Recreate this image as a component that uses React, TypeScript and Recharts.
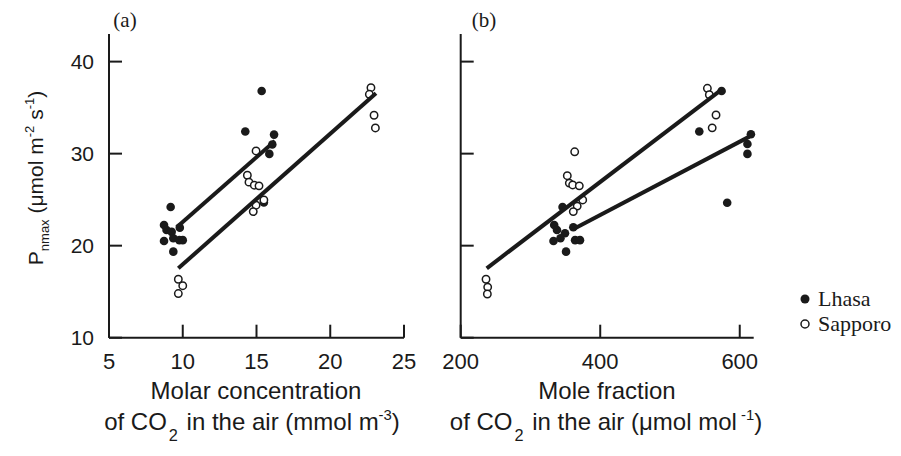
import React from "react";
import { ScatterChart, Scatter, XAxis, YAxis } from "recharts";

// (a) molar concentration of CO2 (mmol m-3) vs Pnmax
const lhasaA = [
  { x: 15.35, y: 36.8 }, { x: 14.24, y: 32.4 }, { x: 16.19, y: 32.07 }, { x: 16.07, y: 31.0 },
  { x: 15.87, y: 29.97 }, { x: 15.5, y: 24.7 }, { x: 9.18, y: 24.2 }, { x: 8.73, y: 22.25 },
  { x: 8.9, y: 21.7 }, { x: 9.25, y: 21.5 }, { x: 9.8, y: 21.96 }, { x: 8.73, y: 20.5 },
  { x: 9.36, y: 20.8 }, { x: 9.77, y: 20.6 }, { x: 10.0, y: 20.6 }, { x: 9.36, y: 19.35 },
];
const sapporoA = [
  { x: 22.76, y: 37.17 }, { x: 22.65, y: 36.45 }, { x: 22.97, y: 34.17 }, { x: 23.06, y: 32.79 },
  { x: 14.97, y: 30.29 }, { x: 14.38, y: 27.65 }, { x: 14.49, y: 26.9 }, { x: 14.85, y: 26.57 },
  { x: 15.17, y: 26.5 }, { x: 15.5, y: 24.97 }, { x: 14.97, y: 24.4 }, { x: 14.78, y: 23.7 },
  { x: 9.7, y: 16.35 }, { x: 10.0, y: 15.65 }, { x: 9.7, y: 14.8 },
];
const lhasaFitA = [{ x: 9.59, y: 22.0 }, { x: 16.25, y: 31.38 }];
const sapporoFitA = [{ x: 9.7, y: 17.54 }, { x: 23.1, y: 36.56 }];

// (b) mole fraction of CO2 (umol mol-1) vs Pnmax
const lhasaB = [
  { x: 574, y: 36.8 }, { x: 542, y: 32.4 }, { x: 616, y: 32.1 }, { x: 611, y: 31.05 },
  { x: 611, y: 29.97 }, { x: 582, y: 24.67 }, { x: 346, y: 24.2 }, { x: 334, y: 22.25 },
  { x: 338, y: 21.7 }, { x: 349.5, y: 21.35 }, { x: 361.4, y: 22.0 }, { x: 333, y: 20.5 },
  { x: 343, y: 20.8 }, { x: 364, y: 20.6 }, { x: 371, y: 20.6 }, { x: 351, y: 19.35 },
];
const sapporoB = [
  { x: 553.6, y: 37.1 }, { x: 556.4, y: 36.4 }, { x: 566, y: 34.2 }, { x: 560.5, y: 32.8 },
  { x: 363.4, y: 30.2 }, { x: 352.8, y: 27.6 }, { x: 355.7, y: 26.8 }, { x: 360.5, y: 26.6 },
  { x: 370, y: 26.5 }, { x: 374.9, y: 24.97 }, { x: 367, y: 24.3 }, { x: 361.4, y: 23.7 },
  { x: 236.3, y: 16.35 }, { x: 238.7, y: 15.5 }, { x: 238.2, y: 14.75 },
];
const sapporoFitB = [{ x: 237.3, y: 17.54 }, { x: 572, y: 36.85 }];
const lhasaFitB = [{ x: 363.9, y: 21.9 }, { x: 613.8, y: 31.85 }];

const yTicks = [10, 20, 30, 40];
const xTicksA = [5, 10, 15, 20, 25];
const xTicksB = [200, 400, 600];

const INK = "#1a1a1a";
const SANS = "'Liberation Sans', Arial, sans-serif";
const SERIF = "'Liberation Serif', 'Times New Roman', serif";

const filledDot = (p: any) => <circle cx={p.cx} cy={p.cy} r={4.3} fill={INK} />;
const openDot = (p: any) => <circle cx={p.cx} cy={p.cy} r={3.7} fill="#fff" stroke={INK} strokeWidth={1.5} />;
const noDot = () => <g />;

const makeYTick = (showLabel: boolean) => (p: any) => (
  <g>
    <line x1={p.x} y1={p.y} x2={p.x + 13} y2={p.y} stroke={INK} strokeWidth={2} />
    {showLabel && (
      <text x={p.x - 15} y={p.y} textAnchor="end" dominantBaseline="central" fontSize={21} fontFamily={SANS} fill={INK}>
        {p.payload.value}
      </text>
    )}
  </g>
);

const XTick = (p: any) => (
  <g>
    <line x1={p.x} y1={p.y} x2={p.x} y2={p.y - 13} stroke={INK} strokeWidth={2} />
    <text x={p.x} y={p.y + 24} textAnchor="middle" dominantBaseline="central" fontSize={22} fontFamily={SANS} fill={INK}>
      {p.payload.value}
    </text>
  </g>
);

const axisLine = { stroke: INK, strokeWidth: 2 };
const fitLine = { stroke: INK, strokeWidth: 4 };

function Panel({ lhasa, sapporo, fits, xDomain, xTicks, showYLabels, yWidth, margin, width }: any) {
  return (
    <ScatterChart width={width} height={456} margin={margin}>
      <XAxis type="number" dataKey="x" domain={xDomain} ticks={xTicks} height={40}
        axisLine={axisLine} tickLine={false} tickSize={0} tickMargin={0} tick={XTick} interval={0} />
      <YAxis type="number" dataKey="y" domain={[10, 43]} ticks={yTicks} width={yWidth}
        axisLine={axisLine} tickLine={false} tickSize={0} tickMargin={0} tick={makeYTick(showYLabels)} interval={0} />
      <Scatter data={lhasa} shape={filledDot} isAnimationActive={false} />
      <Scatter data={sapporo} shape={openDot} isAnimationActive={false} />
      {fits.map((f: any, i: number) => (
        <Scatter key={i} data={f} line={fitLine} shape={noDot} isAnimationActive={false} />
      ))}
    </ScatterChart>
  );
}

const text = (extra: React.CSSProperties): React.CSSProperties => ({
  position: "absolute", whiteSpace: "nowrap", color: INK, fontFamily: SANS, fontSize: 24, lineHeight: 1, ...extra,
});
const sup: React.CSSProperties = { fontSize: "0.62em", verticalAlign: "0.65em" };
const sub: React.CSSProperties = { fontSize: "0.62em", verticalAlign: "-0.45em" };
const subCO2: React.CSSProperties = { fontSize: "0.68em", verticalAlign: "-0.7em", margin: "0 2px" };

export default function App() {
  return (
    <div style={{ position: "absolute", left: 0, top: 0, width: 901, height: 456, background: "#fff", overflow: "hidden" }}>
      <div style={{ position: "absolute", left: 0, top: 0 }}>
        <Panel lhasa={lhasaA} sapporo={sapporoA} fits={[lhasaFitA, sapporoFitA]} xDomain={[5, 25]} xTicks={xTicksA}
          showYLabels yWidth={60} width={420} margin={{ top: 34, right: 16, bottom: 78.3, left: 49 }} />
      </div>
      <div style={{ position: "absolute", left: 420, top: 0 }}>
        <Panel lhasa={lhasaB} sapporo={sapporoB} fits={[sapporoFitB, lhasaFitB]} xDomain={[200, 620]} xTicks={xTicksB}
          showYLabels={false} yWidth={10} width={481} margin={{ top: 34, right: 147.3, bottom: 78.3, left: 30.7 }} />
      </div>

      <div style={text({ left: 125, top: 20, transform: "translate(-50%,-50%)", fontFamily: SERIF, fontSize: 21 })}>(a)</div>
      <div style={text({ left: 484, top: 20, transform: "translate(-50%,-50%)", fontFamily: SERIF, fontSize: 21 })}>(b)</div>

      <div style={text({ left: 37, top: 178, fontSize: 21, transform: "translate(-50%,-50%) rotate(-90deg)" })}>
        P<span style={sub}>nmax</span> (μmol m<span style={sup}>-2</span> s<span style={sup}>-1</span>)
      </div>

      <div style={text({ left: 256, top: 391, transform: "translate(-50%,-50%)" })}>Molar concentration</div>
      <div style={text({ left: 252, top: 426, transform: "translate(-50%,-50%)" })}>
        of CO<span style={subCO2}>2</span> in the air (mmol m<span style={sup}>-3</span>)
      </div>
      <div style={text({ left: 607, top: 391, transform: "translate(-50%,-50%)" })}>Mole fraction</div>
      <div style={text({ left: 606, top: 426, transform: "translate(-50%,-50%)" })}>
        of CO<span style={subCO2}>2</span> in the air (μmol mol<span style={sup}> -1</span>)
      </div>

      <svg style={{ position: "absolute", left: 795, top: 288 }} width={20} height={50}>
        <circle cx={10} cy={11} r={4.5} fill={INK} />
        <circle cx={10} cy={36} r={4} fill="#fff" stroke={INK} strokeWidth={1.5} />
      </svg>
      <div style={text({ left: 818, top: 299, transform: "translateY(-50%)", fontFamily: SERIF, fontSize: 22 })}>Lhasa</div>
      <div style={text({ left: 818, top: 324, transform: "translateY(-50%)", fontFamily: SERIF, fontSize: 22 })}>Sapporo</div>
    </div>
  );
}
